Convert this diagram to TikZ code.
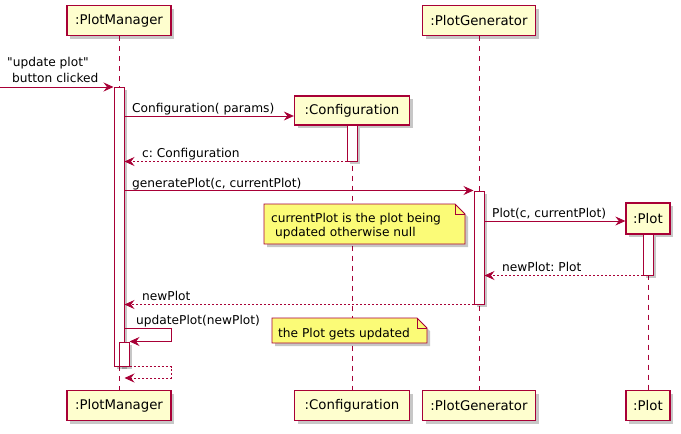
\documentclass[tikz,border=0pt]{standalone}
\usepackage{fontspec}
\setmainfont{DejaVu Sans}[Ligatures=TeXOff]
\frenchspacing
\usetikzlibrary{arrows.meta,shadows}
\definecolor{pborder}{HTML}{A80036}
\definecolor{pfill}{HTML}{FEFECE}
\definecolor{nfill}{HTML}{FBFB77}
\tikzset{
  shad/.style={drop shadow={shadow xshift=3pt,shadow yshift=-3pt,fill=black,opacity=0.22}},
  part/.style={draw=pborder,fill=pfill,line width=1.3pt,minimum height=30pt,inner sep=0pt,
    font=\fontsize{13.3}{15}\selectfont,shad},
  act/.style={draw=pborder,fill=white,line width=1pt,minimum width=10pt,inner sep=0pt,shad},
  life/.style={draw=pborder,line width=0.6pt,dash pattern=on 5pt off 5pt},
  msg/.style={draw=pborder,line width=0.8pt,-{Stealth[length=10pt,width=9pt,inset=3.5pt]}},
  ret/.style={msg,dash pattern=on 2pt off 2pt},
  lbl/.style={inner sep=0pt,font=\fontsize{12.2}{14}\selectfont,anchor=base west},
  notebox/.style={draw=pborder,fill=nfill,line width=0.8pt},
  noteshad/.style={fill=black,opacity=0.22},
}
\begin{document}
\begin{tikzpicture}[x=1pt,y=-1pt]
\useasboundingbox (0,0) rectangle (681,434);
% participants
\node[part,minimum width=104pt] (pmT) at (119,20.5) {:PlotManager};
\node[part,minimum width=104pt] (pmBot) at (119,405.5) {:PlotManager};
\node[part,minimum width=115pt,minimum height=29pt] (cfT) at (352,110.5) {:Configuration};
\node[part,minimum width=115pt] (cfBot) at (352,405.5) {:Configuration};
\node[part,minimum width=113pt] (pgT) at (479,20.5) {:PlotGenerator};
\node[part,minimum width=113pt] (pgBot) at (479,405.5) {:PlotGenerator};
\node[part,minimum width=44pt,minimum height=31pt] (plT) at (648,218.5) {:Plot};
\node[part,minimum width=44pt] (plBot) at (648,405.5) {:Plot};
% lifelines
\draw[life] (pmT.south) -- (pmBot.north);
\draw[life] (cfT.south) -- (cfBot.north);
\draw[life] (pgT.south) -- (pgBot.north);
\draw[life] (plT.south) -- (plBot.north);
% activations
\node[act,minimum height=279pt] (pmA) at (119,226.5) {};
\node[act,minimum height=24pt] (pmB) at (124,354) {};
\node[act,minimum height=36pt] (cfA) at (352,143) {};
\node[act,minimum height=113pt] (pgA) at (479,247.5) {};
\node[act,minimum height=41pt] (plA) at (648,254.5) {};
% incoming message
\coordinate (src) at (0,87);
\draw[msg] (src) -- (src -| pmA.west);
\node[lbl] (l0a) at (7,66) {"update plot"};
\node[lbl] (l0b) at (12,82) {button clicked};
% Configuration( params)
\draw[msg] (pmA.east |- 0,116) -- (cfT.west |- 0,116);
\node[lbl] (l1) at (132,112) {Configuration( params)};
% c: Configuration
\draw[ret] (cfA.south west) -- (pmA.east |- cfA.south);
\node[lbl] (l2) at (142,157) {c: Configuration};
% generatePlot
\draw[msg] (pmA.east |- pgA.north) -- (pgA.north west);
\node[lbl] (l3) at (132,187) {generatePlot(c, currentPlot)};
% Plot(c, currentPlot)
\draw[msg] (pgA.east |- 0,221) -- (plT.west |- 0,221);
\node[lbl] (l4) at (492,217) {Plot(c, currentPlot)};
% newPlot: Plot
\draw[ret] (plA.south west) -- (pgA.east |- plA.south);
\node[lbl] (l5) at (502,271) {newPlot: Plot};
% newPlot
\draw[ret] (pgA.south west) -- (pmA.east |- pgA.south);
\node[lbl] (l6) at (142,300) {newPlot};
% updatePlot self message
\coordinate (sA) at (171,328);
\draw[msg] (pmA.east |- sA) -- (sA) -- (sA |- pmB.north) -- (pmB.north east);
\node[lbl] (l7) at (136,324) {updatePlot(newPlot)};
% return self
\coordinate (sB) at (171,378);
\draw[ret] (pmB.south east) -- (sB |- pmB.south) -- (sB) -- (pmA.east |- sB);
% notes
\fill[noteshad] (267,207) -- (458,207) -- (468,217) -- (468,247) -- (267,247) -- cycle;
\draw[notebox] (264,204) coordinate (n1) -- (455,204) -- (465,214) -- (465,244) -- (264,244) -- cycle;
\draw[pborder,line width=0.8pt] (455,204) -- (455,214) -- (465,214);
\node[lbl] (nt1a) at (271,222) {currentPlot is the plot being};
\node[lbl] (nt1b) at (275,236) {updated otherwise null};
\fill[noteshad] (275,321) -- (420,321) -- (430,331) -- (430,346) -- (275,346) -- cycle;
\draw[notebox] (272,318) coordinate (n2) -- (417,318) -- (427,328) -- (427,343) -- (272,343) -- cycle;
\draw[pborder,line width=0.8pt] (417,318) -- (417,328) -- (427,328);
\node[lbl] (nt2) at (278,337) {the Plot gets updated};
\end{tikzpicture}
\end{document}
